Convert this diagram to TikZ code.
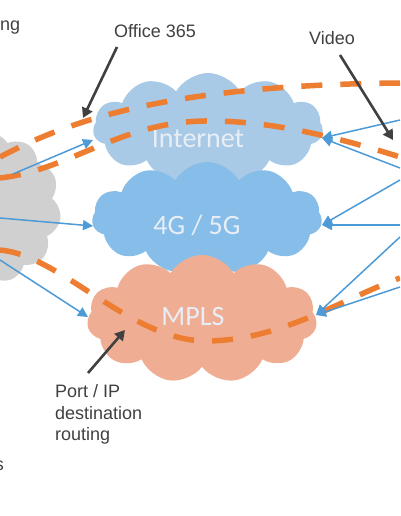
\documentclass[tikz,border=0pt]{standalone}
\usepackage{fontspec}
\setmainfont{Liberation Sans}
\newfontfamily\carlitofont{Carlito}
\usetikzlibrary{shapes.symbols,arrows.meta}
\definecolor{inetc}{HTML}{A9CAE6}
\definecolor{ltec}{HTML}{87BEE9}
\definecolor{mplsc}{HTML}{EFAE94}
\definecolor{grayc}{HTML}{D0D0D0}
\definecolor{orangec}{HTML}{ED7D31}
\definecolor{bluec}{HTML}{4C9AD6}
\definecolor{darkc}{HTML}{404040}
\definecolor{cloudtxt}{HTML}{E8EEF5}
\tikzset{
 cloudbox/.style={cloud, cloud puffs=11, cloud puff arc=120, draw=none, inner sep=0pt, aspect=2},
 cloudlabel/.style={font=\carlitofont\fontsize{28}{30}\selectfont, text=cloudtxt, inner sep=0pt},
 odash/.style={draw=orangec, line width=5.5pt, dash pattern=on 21pt off 18pt},
 barrow/.style={draw=bluec, line width=1.5pt, -{Triangle[length=10pt,width=10pt]}},
 karrow/.style={draw=darkc, line width=2.6pt, -{Triangle[length=10pt,width=11pt]}},
 caption/.style={font=\fontsize{18}{21.5}\selectfont, text=darkc, inner sep=0pt},
}
\begin{document}
\begin{tikzpicture}[x=1pt,y=-1pt]
\useasboundingbox (0,0) rectangle (400,516);
\clip (0,0) rectangle (400,516);
% clouds
\node[cloudbox, fill=grayc, minimum width=142pt, minimum height=150pt] (site) at (-10,208) {};
\node[cloudbox, fill=inetc, minimum width=230pt, minimum height=110pt] (inet) at (208,128) {};
\node[cloudbox, fill=ltec, minimum width=230pt, minimum height=112pt] (lte) at (207,218) {};
\node[cloudbox, fill=mplsc, minimum width=230pt, minimum height=128pt] (mpls) at (202,319) {};
\node[cloudlabel] (inetl) at (198,139) {Internet};
\node[cloudlabel] (ltel) at (197,225) {4G / 5G};
\node[cloudlabel] (mplsl) at (193,317) {MPLS};
% captions
\node[caption, anchor=base west] (routing) at (0,30.5) {ng};
\node[caption, anchor=base east] (lefts) at (4,470) {s};
\node[caption, anchor=base west] (o365) at (114,37.5) {Office 365};
\node[caption, anchor=base west] (video) at (309,45) {Video};
\node[caption, anchor=base west] (port1) at (55,397) {Port / IP};
\node[caption, anchor=base west] (port2) at (55,419) {destination};
\node[caption, anchor=base west] (port3) at (55,440) {routing};
% coordinates
\coordinate (u0) at (0,157); \coordinate (u1) at (70,120); \coordinate (u2) at (170,85); \coordinate (u3) at (400,83);
\coordinate (l0) at (0,178); \coordinate (l1) at (70,170); \coordinate (l2) at (120,122); \coordinate (l3) at (205,121);
\coordinate (l4) at (270,120); \coordinate (l5) at (340,138); \coordinate (l6) at (400,157);
\coordinate (m0) at (0,250); \coordinate (m1) at (60,255); \coordinate (m2) at (130,340); \coordinate (m3) at (205,341);
\coordinate (m4) at (280,341); \coordinate (m5) at (340,300); \coordinate (m6) at (400,278);
% orange paths
\draw[odash] (u0) .. controls (u1) and (u2) .. (u3);
\draw[odash] (l0) .. controls (l1) and (l2) .. (l3) .. controls (l4) and (l5) .. (l6);
\draw[odash] (m0) .. controls (m1) and (m2) .. (m3) .. controls (m4) and (m5) .. (m6);
% blue arrows left
\coordinate (sa) at (13,174); \coordinate (sb) at (0,218); \coordinate (sc) at (0,260);
\coordinate (iL) at (93,140); \coordinate (gL) at (93,226); \coordinate (mL) at (88,317);
\draw[barrow] (sa) -- (iL);
\draw[barrow] (sb) -- (gL);
\draw[barrow] (sc) -- (mL);
% blue arrows right
\coordinate (r1) at (400,120); \coordinate (r2) at (400,168); \coordinate (r3) at (400,180);
\coordinate (r4) at (400,225); \coordinate (r5) at (400,237); \coordinate (r6) at (400,287);
\coordinate (iR) at (322,138); \coordinate (gR) at (322,225); \coordinate (mR) at (316,315);
\draw[barrow] (r1) -- (iR);
\draw[barrow] (r2) -- (iR);
\draw[barrow] (r3) -- (gR);
\draw[barrow] (r4) -- (gR);
\draw[barrow] (r5) -- (mR);
\draw[barrow] (r6) -- (mR);
% black arrows
\coordinate (oa) at (117,47); \coordinate (ob) at (83,118);
\coordinate (va) at (340,55); \coordinate (vb) at (393,140);
\coordinate (pa) at (88,373); \coordinate (pb) at (125,330);
\draw[karrow] (oa) -- (ob);
\draw[karrow] (va) -- (vb);
\draw[karrow] (pa) -- (pb);
\end{tikzpicture}
\end{document}
